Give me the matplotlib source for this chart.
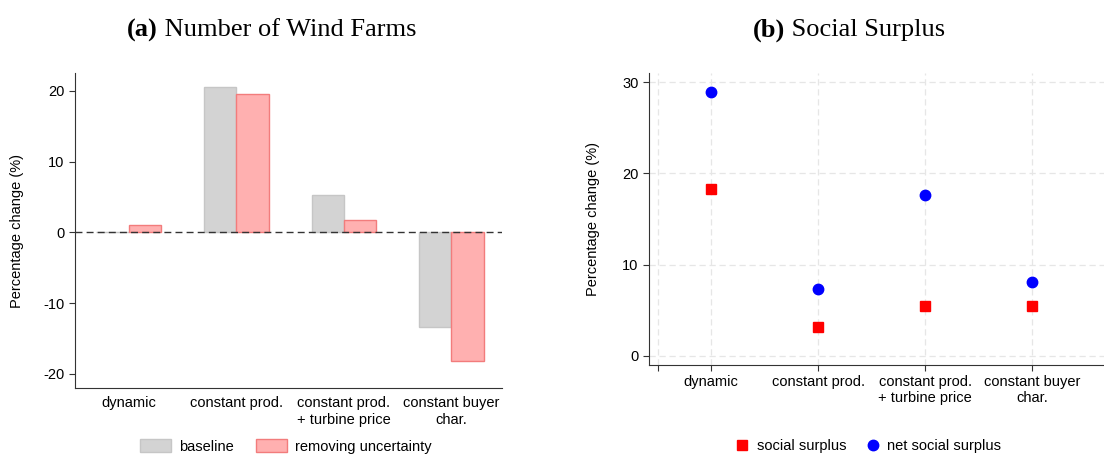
import matplotlib.pyplot as plt
import numpy as np

categories = ["dynamic", "constant prod.", "constant prod.\n+ turbine price", "constant buyer\nchar."]
baseline = [0.1, 20.5, 5.3, -13.4]
no_uncertainty = [1.0, 19.5, 1.7, -18.2]
social_surplus = [18.3, 3.2, 5.5, 5.5]
net_social_surplus = [28.9, 7.3, 17.65, 8.1]

plt.rcParams['font.family'] = ['Liberation Sans', 'DejaVu Sans']
plt.rcParams['font.size'] = 10.5
plt.rcParams['axes.unicode_minus'] = False

fig = plt.figure(figsize=(11.04, 4.54), dpi=100)
axL = fig.add_axes([0.0679, 0.1454, 0.3868, 0.6937])
axR = fig.add_axes([0.5879, 0.196, 0.4121, 0.643])

x = np.arange(1, len(categories) + 1)
w = 0.3

# (a) bars
axL.bar(x - w / 2, baseline, w, color='#d3d3d3', edgecolor='#c6c6c6', linewidth=1, label='baseline', zorder=2)
axL.bar(x + w / 2, no_uncertainty, w, color='#ffb0b0', edgecolor='#f27c7c', linewidth=1,
        label='removing uncertainty', zorder=2)
axL.axhline(0, color='#333333', linestyle=(0, (5, 3)), linewidth=1, zorder=3)
axL.set_xlim(0.5, 4.47)
axL.set_ylim(-22, 22.5)
axL.set_yticks([-20, -10, 0, 10, 20])
axL.set_xticks(x)
axL.set_xticklabels(categories)
axL.tick_params(axis='x', length=0, pad=6)
axL.tick_params(axis='y', length=4, color='#333333')
axL.set_ylabel('Percentage change (%)', labelpad=14)
for s in ['top', 'right']:
    axL.spines[s].set_visible(False)
for s in ['left', 'bottom']:
    axL.spines[s].set_color('#333333')

axL.legend(loc='center', bbox_to_anchor=(0.259, 0.017), bbox_transform=fig.transFigure, ncol=2,
           frameon=False, handlelength=2.1, handleheight=1.0, handletextpad=0.6, columnspacing=1.5)

# (b) scatter
axR.set_axisbelow(True)
axR.plot(x, social_surplus, linestyle='none', marker='s', color='#ff0000', markersize=7.5,
         label='social surplus')
axR.plot(x, net_social_surplus, linestyle='none', marker='o', color='#0000ff', markersize=7.5,
         label='net social surplus')
axR.set_xlim(0.42, 4.67)
axR.set_ylim(-1, 31)
axR.set_yticks([0, 10, 20, 30])
axR.set_xticks(list(x) + [0.5])
axR.set_xticklabels(categories + [''])
axR.grid(True, color='#e6e6e6', linestyle=(0, (5, 3)), linewidth=0.9)
axR.tick_params(axis='x', length=4, color='#333333', pad=3)
axR.tick_params(axis='y', length=4, color='#333333')
axR.set_ylabel('Percentage change (%)', labelpad=16)
for s in ['top', 'right']:
    axR.spines[s].set_visible(False)
for s in ['left', 'bottom']:
    axR.spines[s].set_color('#333333')

axR.legend(loc='center', bbox_to_anchor=(0.787, 0.017), bbox_transform=fig.transFigure, ncol=2,
           frameon=False, handlelength=0.8, handletextpad=0.6, columnspacing=1.4)

title_kw = dict(fontsize=19, family='Liberation Serif', va='center')
fig.text(0.1431, 0.934, '(a)', weight='bold', ha='right', **title_kw)
fig.text(0.1431, 0.934, ' Number of Wind Farms', ha='left', **title_kw)
fig.text(0.711, 0.934, '(b)', weight='bold', ha='right', **title_kw)
fig.text(0.711, 0.934, ' Social Surplus', ha='left', **title_kw)

fig.savefig('out.png', dpi=100)
